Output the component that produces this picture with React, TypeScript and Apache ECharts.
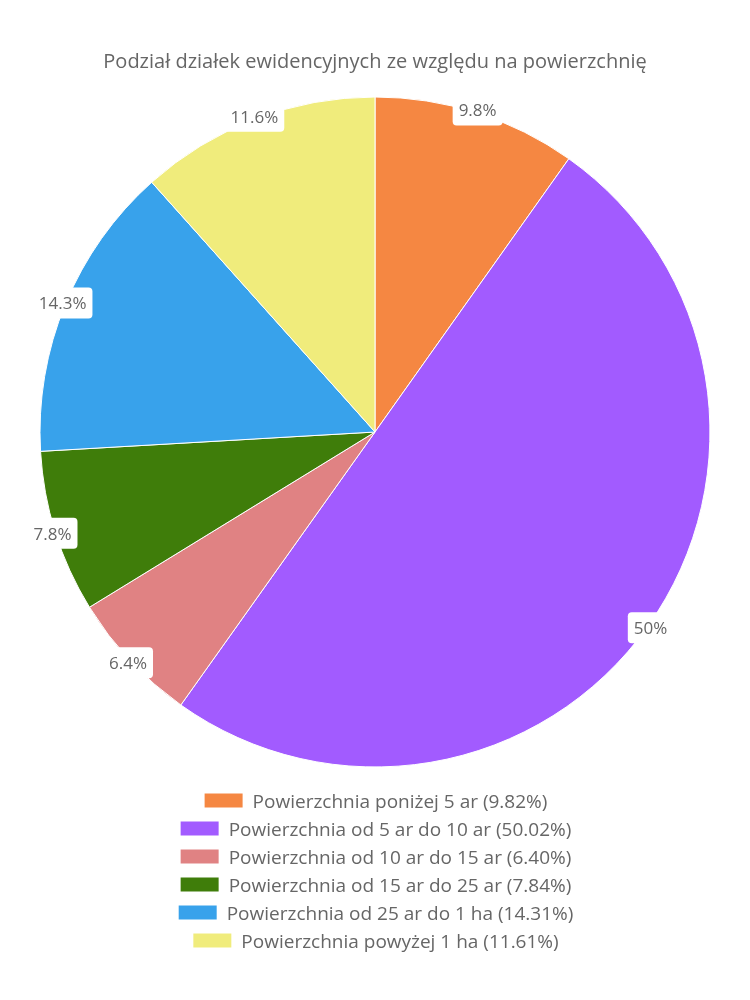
import React, { useEffect, useRef } from "react";
import * as echarts from "echarts";

const titleText = "Podział działek ewidencyjnych ze względu na powierzchnię";
const categories = [
  "Powierzchnia poniżej 5 ar",
  "Powierzchnia od 5 ar do 10 ar",
  "Powierzchnia od 10 ar do 15 ar",
  "Powierzchnia od 15 ar do 25 ar",
  "Powierzchnia od 25 ar do 1 ha",
  "Powierzchnia powyżej 1 ha",
];
const values = [9.82, 50.02, 6.4, 7.84, 14.31, 11.61];
const colors = ["#F58742", "#A25BFF", "#E08283", "#3F7D0A", "#38A2EB", "#F0EC7C"];

const FONT = "'Open Sans', sans-serif";

export default function App() {
  const ref = useRef<HTMLDivElement>(null);
  useEffect(() => {
    if (!ref.current) return;
    const chart = echarts.init(ref.current, undefined, { renderer: "svg" });
    const names = categories.map((c, i) => `${c} (${values[i].toFixed(2)}%)`);
    const data = names.map((n, i) => ({ name: n, value: values[i], itemStyle: { color: colors[i] } }));
    chart.setOption({
      animation: false,
      textStyle: { fontFamily: FONT },
      title: {
        text: titleText,
        left: "center",
        top: 45,
        textStyle: { fontSize: 20, fontWeight: "normal", color: "#666", fontFamily: FONT },
      },
      legend: names.map((n, i) => ({
        data: [n],
        left: "center",
        top: 786 + 28 * i,
        itemWidth: 40,
        itemHeight: 16,
        itemGap: 10,
        selectedMode: false,
        icon: "rect",
        textStyle: { fontSize: 19, color: "#666", fontFamily: FONT, padding: [0, 0, 0, 4] },
      })),
      series: [
        {
          type: "pie",
          center: [375, 432],
          radius: [0, 335],
          startAngle: 90,
          clockwise: true,
          silent: true,
          label: { show: false },
          labelLine: { show: false },
          itemStyle: { borderColor: "#fff", borderWidth: 1 },
          data,
        },
        {
          type: "pie",
          center: [375, 432],
          radius: [300, 370],
          startAngle: 90,
          clockwise: true,
          silent: true,
          itemStyle: { color: "rgba(0,0,0,0)", borderWidth: 0 },
          labelLine: { show: false },
          label: {
            show: true,
            position: "inside",
            formatter: (p: any) => `${parseFloat(p.value.toFixed(1))}%`,
            fontSize: 17,
            color: "#666",
            fontFamily: FONT,
            backgroundColor: "#fff",
            borderRadius: 4,
            padding: [7, 6],
            lineHeight: 17,
          },
          data: names.map((n, i) => ({ name: n, value: values[i] })),
        },
      ],
    });
    return () => chart.dispose();
  }, []);
  return <div ref={ref} style={{ position: "fixed", left: 0, top: 0, width: 750, height: 1000 }} />;
}
